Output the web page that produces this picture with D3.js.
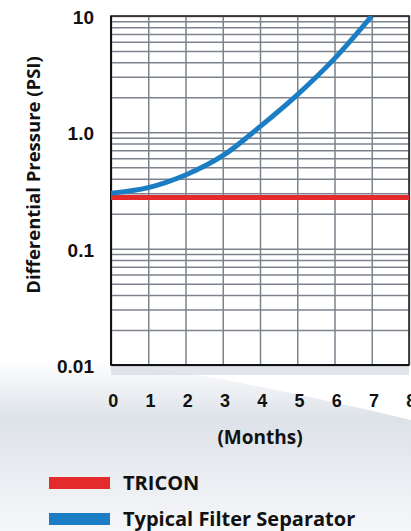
<!DOCTYPE html>
<html>
<head>
<meta charset="utf-8">
<script src="https://cdn.jsdelivr.net/npm/d3@7"></script>
<style>
  html, body { margin: 0; padding: 0; background: #fff; }
  svg { display: block; font-family: "Open Sans", sans-serif; font-weight: bold; }
  .grid line { stroke: #7c828c; stroke-width: 1.5; }
  .grid path { display: none; }
  .lbl path, .lbl line { display: none; }
  .lbl text { fill: #111; font-weight: bold; }
</style>
</head>
<body>
<svg id="chart" width="411" height="531"></svg>
<script>
// data
let months = [0, 1, 2, 3, 4, 5, 6, 7]
let filterSeparator = [0.30, 0.335, 0.43, 0.63, 1.12, 2.1, 4.3, 10.0]
let triconMonths = [0, 1, 2, 3, 4, 5, 6, 7, 8]
let tricon = [0.275, 0.275, 0.275, 0.275, 0.275, 0.275, 0.275, 0.275, 0.275]

let xTicks = [0, 1, 2, 3, 4, 5, 6, 7, 8]
let yTickValues = [0.01, 0.1, 1, 10]
let yTickLabels = ["0.01", "0.1", "1.0", "10"]
let legendNames = ["TRICON", "Typical Filter Separator"]
let legendColors = ["#e52a2c", "#1b7dc3"]

let svg = d3.select("#chart")

let margin = { top: 16, left: 111 }
let width = 298
let height = 349

// soft background swoosh
let defs = svg.append("defs")
let grad = defs.append("linearGradient")
    .attr("id", "bg")
    .attr("x1", 0).attr("y1", 0).attr("x2", 0).attr("y2", 1)
grad.append("stop").attr("offset", "0%").attr("stop-color", "#ffffff")
grad.append("stop").attr("offset", "35%").attr("stop-color", "#dde2e9")
grad.append("stop").attr("offset", "100%").attr("stop-color", "#f6f7f9")

svg.append("path")
    .attr("d", "M0,360 C90,355 200,370 411,420 L411,531 L0,531 Z")
    .attr("fill", "url(#bg)")

svg.append("rect")
    .attr("x", margin.left).attr("y", margin.top + height)
    .attr("width", width).attr("height", 10)
    .attr("fill", "#cfd5dd").attr("opacity", 0.6)

defs.append("clipPath")
    .attr("id", "clip")
  .append("rect")
    .attr("width", width)
    .attr("height", height)

let x = d3.scaleLinear()
    .domain([0, 8])
    .range([0, width])

let y = d3.scaleLog()
    .domain([0.01, 10])
    .range([height, 0])

let g = svg.append("g")
    .attr("transform", "translate(" + margin.left + "," + margin.top + ")")

g.append("rect")
    .attr("width", width)
    .attr("height", height)
    .attr("fill", "#fff")

// log grid: 1..9 in every decade
let gridVals = []
for (let d = -2; d < 1; d++) {
    for (let k = 1; k < 10; k++) gridVals.push(k * Math.pow(10, d))
}
gridVals.push(10)

g.append("g")
    .attr("class", "grid")
    .call(d3.axisLeft(y).tickValues(gridVals).tickSize(-width).tickFormat(""))

g.append("g")
    .attr("class", "grid")
    .attr("transform", "translate(0," + height + ")")
    .call(d3.axisBottom(x).tickValues(xTicks).tickSize(height).tickSizeOuter(0).tickFormat(""))
    .selectAll("line").attr("transform", "translate(0," + (-height) + ")")

// frame
g.append("rect")
    .attr("width", width)
    .attr("height", height)
    .attr("fill", "none")
    .attr("stroke", "#2a2222")
    .attr("stroke-width", 1.6)
g.append("line")
    .attr("x1", 0).attr("x2", 0).attr("y1", 0).attr("y2", height)
    .attr("stroke", "#111").attr("stroke-width", 2)
g.append("line")
    .attr("x1", 0).attr("x2", width).attr("y1", height).attr("y2", height)
    .attr("stroke", "#111").attr("stroke-width", 2)

// series
let lines = g.append("g").attr("clip-path", "url(#clip)")

let triconLine = d3.line()
    .x((d, i) => x(triconMonths[i]))
    .y(d => y(d))

lines.append("path")
    .datum(tricon)
    .attr("fill", "none")
    .attr("stroke", legendColors[0])
    .attr("stroke-width", 5)
    .attr("d", triconLine)

let sepLine = d3.line()
    .x((d, i) => x(months[i]))
    .y(d => y(d))
    .curve(d3.curveCatmullRom)

lines.append("path")
    .datum(filterSeparator)
    .attr("fill", "none")
    .attr("stroke", legendColors[1])
    .attr("stroke-width", 5)
    .attr("d", sepLine)

// axis labels
let yLab = g.append("g")
    .attr("class", "lbl")
    .call(d3.axisLeft(y).tickValues(yTickValues).tickSize(0).tickPadding(17)
        .tickFormat((d, i) => yTickLabels[i]))
yLab.selectAll("text")
    .style("font-size", "19px")
    .attr("dy", "0.4em")

let xLab = g.append("g")
    .attr("class", "lbl")
    .attr("transform", "translate(0," + height + ")")
    .call(d3.axisBottom(x).tickValues(xTicks).tickSize(0).tickPadding(29))
xLab.selectAll("text")
    .style("font-size", "18px")
    .attr("dx", "0.1em")

svg.append("text")
    .attr("x", 260)
    .attr("y", 444)
    .attr("text-anchor", "middle")
    .style("font-size", "19px")
    .attr("fill", "#111")
    .text("(Months)")

svg.append("text")
    .attr("transform", "translate(40,175) rotate(-90)")
    .attr("text-anchor", "middle")
    .style("font-size", "18.5px")
    .attr("fill", "#111")
    .text("Differential Pressure (PSI)")

// legend
let legend = svg.append("g")
    .attr("transform", "translate(49,477)")

let item = legend.selectAll("g")
    .data(legendNames)
    .enter().append("g")
    .attr("transform", (d, i) => "translate(0," + (i * 36) + ")")

item.append("rect")
    .attr("width", 61)
    .attr("height", 12)
    .attr("fill", (d, i) => legendColors[i])

item.append("text")
    .attr("x", 74)
    .attr("y", 6)
    .attr("dy", "0.36em")
    .style("font-size", "20px")
    .attr("fill", "#111")
    .text(d => d)
</script>
</body>
</html>
